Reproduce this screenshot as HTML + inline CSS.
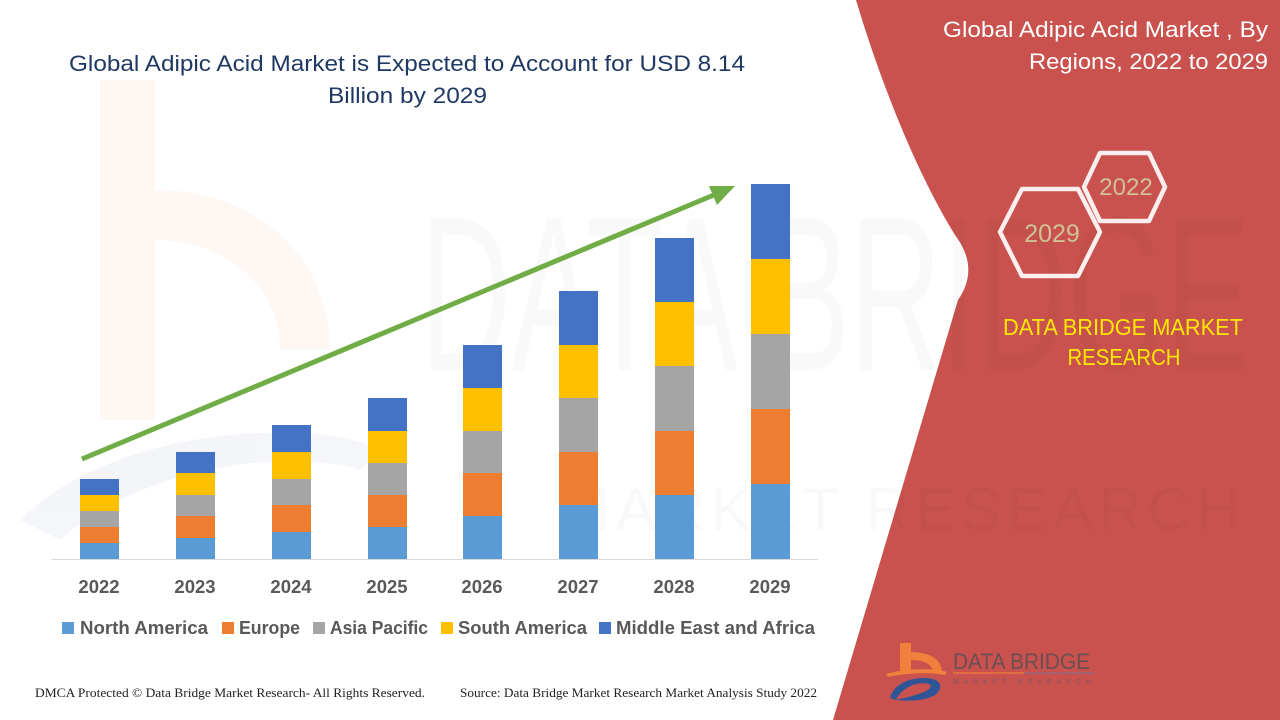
<!DOCTYPE html>
<html>
<head>
<meta charset="utf-8">
<style>
  html,body{margin:0;padding:0;background:#fff;}
  body{width:1280px;height:720px;overflow:hidden;}
  svg{display:block;}
</style>
</head>
<body>
<svg width="1280" height="720" viewBox="0 0 1280 720" xmlns="http://www.w3.org/2000/svg">
  <rect width="1280" height="720" fill="#ffffff"/>

  <!-- faint watermark b -->
  <g opacity="0.05">
    <rect x="100" y="80" width="55" height="340" fill="#ed7d31"/>
    <path d="M155,190 C260,190 330,260 330,350 L280,350 C280,290 230,240 155,240 Z" fill="#ed7d31"/>
    <path d="M20,520 C120,420 330,420 380,450 L360,470 C300,450 150,460 60,540 Z" fill="#2f5597"/>
  </g>

  <!-- red panel -->
  <path d="M856,0 L1280,0 L1280,720 L833,720 L958,300 Q980,268 955,235 C915,170 880,80 856,0 Z" fill="#c9524e"/>

  <!-- faint watermark letters -->
  <text x="420" y="370" font-family="Liberation Sans, sans-serif" font-size="220" textLength="830" lengthAdjust="spacingAndGlyphs" fill="#000" fill-opacity="0.025">DATA BRIDGE</text>
  <text x="560" y="530" font-family="Liberation Sans, sans-serif" font-size="60" textLength="680" lengthAdjust="spacing" fill="#000" fill-opacity="0.025">MARKET RESEARCH</text>

  <!-- left title -->
  <text x="69" y="71" font-family="Liberation Sans, sans-serif" font-size="22" fill="#203864" textLength="676" lengthAdjust="spacingAndGlyphs">Global Adipic Acid Market is Expected to Account for USD 8.14</text>
  <text x="328" y="103" font-family="Liberation Sans, sans-serif" font-size="22" fill="#203864" textLength="159" lengthAdjust="spacingAndGlyphs">Billion by 2029</text>

  <!-- axis line -->
  <line x1="52" y1="559.5" x2="818" y2="559.5" stroke="#d9d9d9" stroke-width="1"/>

  <!-- bars -->
  <g>
    <rect x="80" y="543" width="39" height="16" fill="#5b9bd5"/>
    <rect x="80" y="527" width="39" height="16" fill="#ed7d31"/>
    <rect x="80" y="511" width="39" height="16" fill="#a5a5a5"/>
    <rect x="80" y="495" width="39" height="16" fill="#ffc000"/>
    <rect x="80" y="479" width="39" height="16" fill="#4472c4"/>

    <rect x="176" y="538" width="39" height="21" fill="#5b9bd5"/>
    <rect x="176" y="516" width="39" height="22" fill="#ed7d31"/>
    <rect x="176" y="495" width="39" height="21" fill="#a5a5a5"/>
    <rect x="176" y="473" width="39" height="22" fill="#ffc000"/>
    <rect x="176" y="452" width="39" height="21" fill="#4472c4"/>

    <rect x="272" y="532" width="39" height="27" fill="#5b9bd5"/>
    <rect x="272" y="505" width="39" height="27" fill="#ed7d31"/>
    <rect x="272" y="479" width="39" height="26" fill="#a5a5a5"/>
    <rect x="272" y="452" width="39" height="27" fill="#ffc000"/>
    <rect x="272" y="425" width="39" height="27" fill="#4472c4"/>

    <rect x="368" y="527" width="39" height="32" fill="#5b9bd5"/>
    <rect x="368" y="495" width="39" height="32" fill="#ed7d31"/>
    <rect x="368" y="463" width="39" height="32" fill="#a5a5a5"/>
    <rect x="368" y="431" width="39" height="32" fill="#ffc000"/>
    <rect x="368" y="398" width="39" height="33" fill="#4472c4"/>

    <rect x="463" y="516" width="39" height="43" fill="#5b9bd5"/>
    <rect x="463" y="473" width="39" height="43" fill="#ed7d31"/>
    <rect x="463" y="431" width="39" height="42" fill="#a5a5a5"/>
    <rect x="463" y="388" width="39" height="43" fill="#ffc000"/>
    <rect x="463" y="345" width="39" height="43" fill="#4472c4"/>

    <rect x="559" y="505" width="39" height="54" fill="#5b9bd5"/>
    <rect x="559" y="452" width="39" height="53" fill="#ed7d31"/>
    <rect x="559" y="398" width="39" height="54" fill="#a5a5a5"/>
    <rect x="559" y="345" width="39" height="53" fill="#ffc000"/>
    <rect x="559" y="291" width="39" height="54" fill="#4472c4"/>

    <rect x="655" y="495" width="39" height="64" fill="#5b9bd5"/>
    <rect x="655" y="431" width="39" height="64" fill="#ed7d31"/>
    <rect x="655" y="366" width="39" height="65" fill="#a5a5a5"/>
    <rect x="655" y="302" width="39" height="64" fill="#ffc000"/>
    <rect x="655" y="238" width="39" height="64" fill="#4472c4"/>

    <rect x="751" y="484" width="39" height="75" fill="#5b9bd5"/>
    <rect x="751" y="409" width="39" height="75" fill="#ed7d31"/>
    <rect x="751" y="334" width="39" height="75" fill="#a5a5a5"/>
    <rect x="751" y="259" width="39" height="75" fill="#ffc000"/>
    <rect x="751" y="184" width="39" height="75" fill="#4472c4"/>
  </g>

  <!-- arrow -->
  <line x1="82" y1="459" x2="715" y2="194.5" stroke="#70ad47" stroke-width="5"/>
  <polygon points="735,186 717,205 709,186" fill="#70ad47"/>

  <!-- year labels -->
  <g font-family="Liberation Sans, sans-serif" font-size="18.5" font-weight="bold" fill="#595959" text-anchor="middle">
    <text x="99" y="593">2022</text>
    <text x="195" y="593">2023</text>
    <text x="291" y="593">2024</text>
    <text x="387" y="593">2025</text>
    <text x="482" y="593">2026</text>
    <text x="578" y="593">2027</text>
    <text x="674" y="593">2028</text>
    <text x="770" y="593">2029</text>
  </g>

  <!-- legend -->
  <g font-family="Liberation Sans, sans-serif" font-size="18.5" font-weight="bold" fill="#595959">
    <rect x="62" y="622" width="12" height="12" fill="#5b9bd5"/>
    <text x="80" y="634" textLength="128" lengthAdjust="spacingAndGlyphs">North America</text>
    <rect x="222" y="622" width="12" height="12" fill="#ed7d31"/>
    <text x="239" y="634" textLength="61" lengthAdjust="spacingAndGlyphs">Europe</text>
    <rect x="313" y="622" width="12" height="12" fill="#a5a5a5"/>
    <text x="330" y="634" textLength="98" lengthAdjust="spacingAndGlyphs">Asia Pacific</text>
    <rect x="441" y="622" width="12" height="12" fill="#ffc000"/>
    <text x="458" y="634" textLength="129" lengthAdjust="spacingAndGlyphs">South America</text>
    <rect x="599" y="622" width="12" height="12" fill="#4472c4"/>
    <text x="616" y="634" textLength="199" lengthAdjust="spacingAndGlyphs">Middle East and Africa</text>
  </g>

  <!-- footer -->
  <g font-family="Liberation Serif, serif" font-size="12.5" fill="#222">
    <text x="35" y="697" textLength="390" lengthAdjust="spacingAndGlyphs">DMCA Protected © Data Bridge Market Research- All Rights Reserved.</text>
    <text x="460" y="697" textLength="357" lengthAdjust="spacingAndGlyphs">Source: Data Bridge Market Research Market Analysis Study 2022</text>
  </g>

  <!-- right title -->
  <g font-family="Liberation Sans, sans-serif" font-size="22" fill="#ffffff">
    <text x="943" y="37" textLength="325" lengthAdjust="spacingAndGlyphs">Global Adipic Acid Market , By</text>
    <text x="1029" y="69" textLength="239" lengthAdjust="spacingAndGlyphs">Regions, 2022 to 2029</text>
  </g>

  <!-- hexagons -->
  <g fill="none" stroke="#fbeeee" stroke-width="4.5" stroke-linejoin="round">
    <polygon points="1084,187 1100,153 1149,153 1165,187 1149,221 1100,221"/>
    <polygon points="1000,232 1022,189 1078,189 1100,232 1078,276 1022,276"/>
  </g>
  <g font-family="Liberation Sans, sans-serif" fill="#cfc393" text-anchor="middle">
    <text x="1126" y="195" font-size="24">2022</text>
    <text x="1052" y="242" font-size="25">2029</text>
  </g>

  <!-- DATA BRIDGE MARKET RESEARCH -->
  <g font-family="Liberation Sans, sans-serif" font-size="23.5" fill="#ffe900" text-anchor="middle">
    <text x="1123" y="335" textLength="240" lengthAdjust="spacingAndGlyphs">DATA BRIDGE MARKET</text>
    <text x="1124" y="365" textLength="113" lengthAdjust="spacingAndGlyphs">RESEARCH</text>
  </g>

  <!-- bottom logo -->
  <g>
    <rect x="900" y="643" width="11" height="30" fill="#f0803c"/>
    <path d="M911,652 C930,652 942,660 942,672 L933,672 C932,664 924,660 911,660 Z" fill="#f0803c"/>
    <path d="M886,674 C905,668 935,668 947,672 L945,675 C930,672 905,673 888,677 Z" fill="#f0803c"/>
    <path d="M890,698 C893,686 906,678 924,678 C938,678 943,684 939,691 C933,700 912,702 896,700 C908,697 924,694 930,688 C933,684 926,682 916,684 C906,687 899,693 896,700 Z" fill="#2f5597"/>
    <text x="953" y="669" font-family="Liberation Sans, sans-serif" font-size="22" fill="#6a4f52" textLength="137" lengthAdjust="spacingAndGlyphs">DATA BRIDGE</text>
    <line x1="953" y1="673" x2="1024" y2="673" stroke="#f0803c" stroke-width="1.2"/>
    <line x1="1024" y1="673" x2="1094" y2="673" stroke="#8a6a8a" stroke-width="1.2"/>
    <text x="953" y="684" font-family="Liberation Sans, sans-serif" font-size="7" fill="#7a5a60" textLength="138" lengthAdjust="spacing">MARKET   RESEARCH</text>
  </g>
</svg>
</body>
</html>
